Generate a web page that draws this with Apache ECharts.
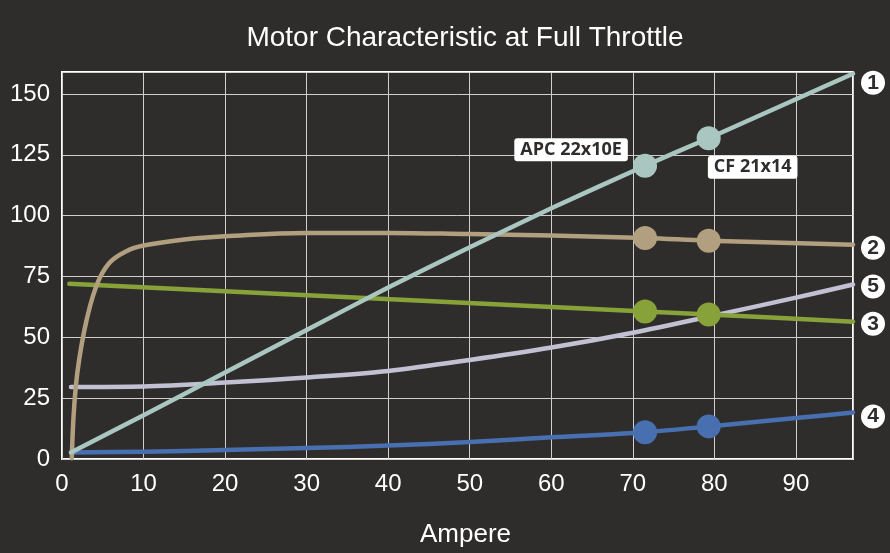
<!DOCTYPE html>
<html>
<head>
<meta charset="utf-8">
<script src="https://cdn.jsdelivr.net/npm/echarts@6/dist/echarts.min.js"></script>
<style>
html,body{margin:0;padding:0;background:#2f2d2b;}
#chart{width:890px;height:553px;}
</style>
</head>
<body>
<div id="chart"></div>
<script>
// ---- data (Ampere vs value) ----
const seriesNames = ['1', '2', '3', '4', '5'];
const line1 = [[1.1,2.7],[10,18],[20,35.5],[30,53],[40,70.5],[50,87],[60,103],[71.5,120.5],[79.3,131.8],[90,147.8],[97,158.3]];
const line2 = [[1.2,0.3],[1.7,30],[2.75,53],[4.2,71],[5.8,80.5],[7.9,85.4],[10,87.7],[15,90.2],[20,91.5],[30,92.9],[40,92.9],[50,92.4],[60,91.8],[71.5,90.8],[79.3,89.7],[97,88]];
const line3 = [[0.9,72],[71.5,60.6],[79.3,59.4],[97,56.4]];
const line4 = [[1.1,2.7],[10,3],[20,3.7],[30,4.5],[40,5.5],[50,7],[60,8.9],[71.5,11],[79.3,13.4],[90,16.8],[97,19.1]];
const line5 = [[1.1,29.6],[10,29.8],[20,31.4],[30,33.5],[40,36.2],[50,40.7],[60,45.8],[70,51.9],[80,59],[90,66.3],[97,71.7]];
const markerAmps = [71.5, 79.3];
const markers1 = [120.5, 131.8];
const markers2 = [90.8, 89.7];
const markers3 = [60.6, 59.4];
const markers4 = [11, 13.4];
const markerLabels = ['APC 22x10E', 'CF 21x14'];
const xTicks = [0, 10, 20, 30, 40, 50, 60, 70, 80, 90];
const yTicks = [0, 25, 50, 75, 100, 125, 150];

const colors = {
  '1': '#a9c6c1',
  '2': '#b19f7f',
  '3': '#88a23a',
  '4': '#4870b0',
  '5': '#c2c1d4'
};
const bg = '#2f2d2b';
const font = '"Liberation Sans", Arial, sans-serif';

function lineSeries(name, data, z, labelOffset, smooth) {
  return {
    type: 'line', name: name, data: data, smooth: smooth,
    showSymbol: false, symbol: 'none', z: z,
    lineStyle: {color: colors[name], width: 4.5, cap: 'round', join: 'round'},
    endLabel: {
      show: true, distance: 8, offset: labelOffset || [0, 0],
      formatter: '{c|' + name + '}',
      rich: {c: {backgroundColor: '#ffffff', borderRadius: 12, width: 24, height: 24, lineHeight: 24,
        align: 'center', verticalAlign: 'middle', color: bg, fontSize: 21, fontWeight: 'bold', fontFamily: font}}
    },
    silent: true, animation: false
  };
}
function markerSeries(name, vals, z, withLabels) {
  return {
    type: 'scatter', name: name + 'm', z: z,
    data: markerAmps.map((a, i) => {
      const d = {value: [a, vals[i]]};
      if (withLabels) {
        d.label = {
          show: true, position: 'inside', formatter: markerLabels[i],
          offset: i === 0 ? [-74, -16] : [44, 29],
          backgroundColor: '#ffffff', borderRadius: 3, padding: [2, 6, 2, 6],
          color: '#2f2d2b', fontSize: 18, lineHeight: 19, fontWeight: 'bold',
          fontFamily: '"Open Sans", "Noto Sans", sans-serif', opacity: 1
        };
      }
      return d;
    }),
    symbol: 'circle', symbolSize: 24,
    itemStyle: {color: colors[name], opacity: 1},
    emphasis: {disabled: true},
    silent: true, animation: false
  };
}

const chart = echarts.init(document.getElementById('chart'), null, {renderer: 'canvas'});
chart.setOption({
  backgroundColor: bg,
  animation: false,
  title: {
    text: 'Motor Characteristic at Full Throttle',
    left: 465, top: 24, textAlign: 'center', padding: 0,
    textStyle: {color: '#ffffff', fontSize: 28, fontWeight: 'normal', fontFamily: font}
  },
  grid: {left: 62, right: 37, top: 72, bottom: 93, show: true, borderColor: '#ffffff', borderWidth: 2, backgroundColor: 'transparent'},
  xAxis: {
    type: 'value', min: 0, max: 97, interval: 10,
    name: 'Ampere', nameLocation: 'middle', nameGap: 63,
    nameTextStyle: {color: '#ffffff', fontSize: 26, fontFamily: font, padding: [0, 0, 0, 16]},
    axisLine: {show: false}, axisTick: {show: false},
    axisLabel: {color: '#ffffff', fontSize: 24, fontFamily: font, margin: 13, showMaxLabel: false,
      formatter: v => xTicks.indexOf(v) >= 0 ? String(v) : ''},
    splitLine: {show: true, lineStyle: {color: '#cfcfcf', width: 1}}
  },
  yAxis: {
    type: 'value', min: 0, max: 159, interval: 25,
    axisLine: {show: false}, axisTick: {show: false},
    axisLabel: {color: '#ffffff', fontSize: 24, fontFamily: font, margin: 12, showMaxLabel: false,
      formatter: v => yTicks.indexOf(v) >= 0 ? String(v) : ''},
    splitLine: {show: true, lineStyle: {color: '#cfcfcf', width: 1}}
  },
  series: [
    lineSeries('5', line5, 2, [0, 2], 0.3),
    lineSeries('4', line4, 3, [0, 4], 0.3),
    lineSeries('3', line3, 4, [0, 2], 0.3),
    lineSeries('2', line2, 5, [0, 3], 0.4),
    lineSeries('1', line1, 6, [0, 9], 0.2),
    markerSeries('4', markers4, 10, false),
    markerSeries('3', markers3, 10, false),
    markerSeries('2', markers2, 10, false),
    markerSeries('1', markers1, 11, true)
  ]
});
</script>
</body>
</html>
